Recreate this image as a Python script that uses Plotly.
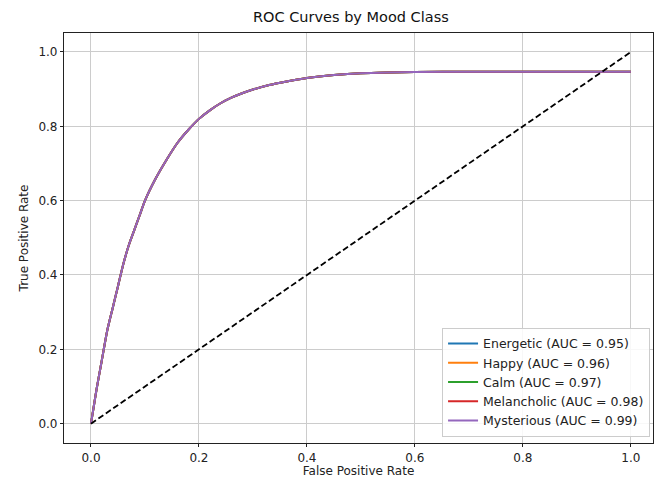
import plotly.graph_objects as go

classes = ["Energetic", "Happy", "Calm", "Melancholic", "Mysterious"]
auc_values = [0.95, 0.96, 0.97, 0.98, 0.99]
colors = ["#1f77b4", "#ff7f0e", "#2ca02c", "#d62728", "#9467bd"]

fpr = [0.0, 0.01, 0.02, 0.03, 0.04, 0.05, 0.06, 0.07, 0.08, 0.09, 0.10,
       0.12, 0.14, 0.16, 0.18, 0.20, 0.22, 0.24, 0.26, 0.28, 0.30,
       0.33, 0.36, 0.40, 0.45, 0.50, 0.55, 0.60, 0.70, 0.80, 0.90, 1.00]
tpr = [0.0, 0.09, 0.17, 0.25, 0.31, 0.37, 0.43, 0.48, 0.52, 0.56, 0.60,
       0.66, 0.71, 0.755, 0.79, 0.82, 0.843, 0.862, 0.877, 0.889, 0.899,
       0.911, 0.920, 0.930, 0.938, 0.943, 0.945, 0.946, 0.947, 0.947, 0.947, 0.947]

diag_x = [0.0, 1.0]
diag_y = [0.0, 1.0]

ticks = [0.0, 0.2, 0.4, 0.6, 0.8, 1.0]
tick_text = ["0.0", "0.2", "0.4", "0.6", "0.8", "1.0"]

FONT = "DejaVu Sans"

fig = go.Figure()
for name, auc, col in zip(classes, auc_values, colors):
    fig.add_trace(go.Scatter(
        x=fpr, y=tpr, mode="lines",
        name=f"{name} (AUC = {auc:.2f})",
        line=dict(color=col, width=2, shape="spline", smoothing=0.6),
    ))

fig.add_trace(go.Scatter(
    x=diag_x, y=diag_y, mode="lines", showlegend=False,
    line=dict(color="black", width=1.8, dash="6px,3px"),
))

axis_common = dict(
    tickvals=ticks, ticktext=tick_text,
    showgrid=True, gridcolor="#cccccc", gridwidth=1,
    showline=True, linecolor="#222222", linewidth=1.2, mirror=True,
    ticks="outside", ticklen=3, tickcolor="#222222", tickwidth=1,
    zeroline=False, automargin=False,
    tickfont=dict(family=FONT, size=12, color="#222222"),
)

fig.update_layout(
    width=662, height=479,
    margin=dict(l=64, r=9, t=33, b=36),
    paper_bgcolor="white", plot_bgcolor="white",
    font=dict(family=FONT, size=12, color="#222222"),
    title=dict(text="ROC Curves by Mood Class", x=0.53, xanchor="center",
               y=1 - 17 / 479, yanchor="middle", yref="container",
               font=dict(family=FONT, size=14.5, color="#111111")),
    xaxis=dict(range=[-0.05, 1.041],
               title=dict(text="False Positive Rate", standoff=3,
                          font=dict(family=FONT, size=12, color="#222222")),
               **axis_common),
    yaxis=dict(range=[-0.052, 1.051],
               title=dict(text="True Positive Rate", standoff=7,
                          font=dict(family=FONT, size=12, color="#222222")),
               **axis_common),
    legend=dict(x=0.995, y=0.015, xanchor="right", yanchor="bottom",
                bgcolor="rgba(255,255,255,0.85)", bordercolor="#cccccc",
                borderwidth=1, font=dict(family=FONT, size=12.5, color="#222222"),
                tracegroupgap=0, itemwidth=30),
)

fig.write_html("out.html", config={"displayModeBar": False},
               post_script="document.body.style.margin='0';document.body.style.overflow='hidden';")
